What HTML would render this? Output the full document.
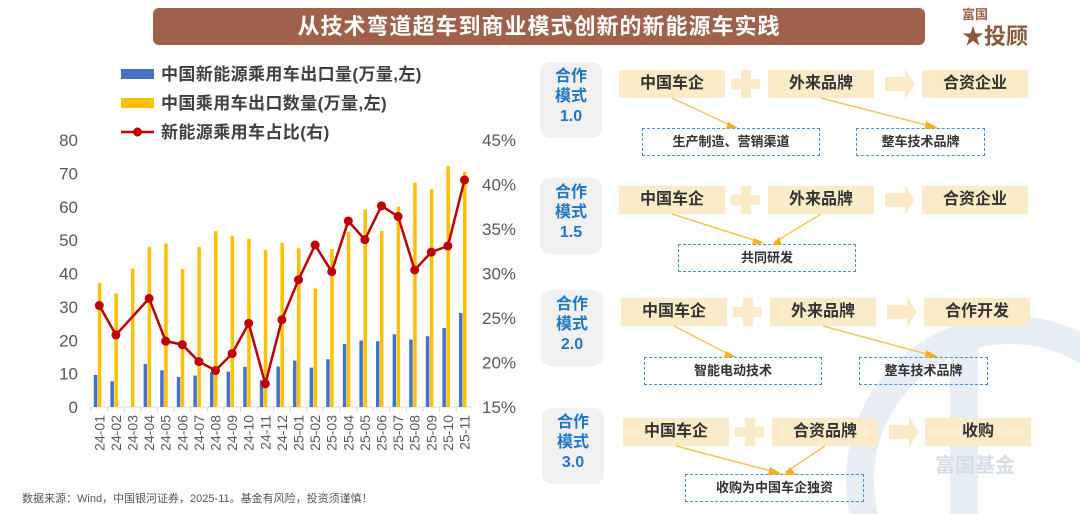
<!DOCTYPE html>
<html style="width:1080px;height:514px;overflow:hidden"><head><meta charset="utf-8">
<style>
html,body{margin:0;width:1080px;height:514px;overflow:hidden;}
body{background:#fff;position:relative;font-family:"Liberation Sans","Noto Sans CJK SC",sans-serif;}
.abs{position:absolute;}
.title{left:153px;top:8px;width:772px;height:37px;background:#A0614A;border-radius:6px;color:#fff;font-size:22px;font-weight:bold;text-align:center;line-height:37px;letter-spacing:1px;}
.mode{width:62px;height:76px;background:#F1F1F1;border-radius:10px;color:#1F77C8;font-weight:bold;font-size:16px;line-height:20px;text-align:center;padding-top:5px;box-sizing:border-box;}
.box{height:28px;background:#FCEBC8;color:#333;font-weight:bold;font-size:16px;line-height:28px;text-align:center;}
.dash{height:28px;border:1.5px dashed #4A90D9;color:#333;font-weight:bold;font-size:13px;line-height:26px;text-align:center;box-sizing:border-box;}
.src{left:22px;top:492px;font-size:11px;color:#555;line-height:14px;}
</style></head><body>
<svg class="abs" style="left:0;top:0" width="1080" height="514">
<circle cx="1010" cy="480" r="150" fill="none" stroke="#E8EEF6" stroke-width="28"/>
<rect x="950" y="330" width="28" height="184" fill="#E8EEF6"/>
<text x="935" y="472" font-size="20" font-weight="bold" fill="#D5DDE8" font-family="Liberation Sans, Noto Sans CJK SC, sans-serif">富国基金</text>
</svg>
<div class="abs title">从技术弯道超车到商业模式创新的新能源车实践</div>
<div class="abs" style="left:962px;top:6px;color:#A0614A;font-weight:bold;font-size:13px;line-height:18px">富国<br><span style="font-size:22px;line-height:26px;color:#8B5A3C">★投顾</span></div>

<svg class="abs" id="chart" style="left:0;top:50px" width="530" height="440"></svg>

<div class="abs mode" style="left:540px;top:62px">合作<br>模式<br>1.0</div>
<div class="abs box" style="left:619px;top:70px;width:106px">中国车企</div>
<div class="abs box" style="left:768px;top:70px;width:106px">外来品牌</div>
<div class="abs box" style="left:922px;top:70px;width:106px">合资企业</div>
<div class="abs dash" style="left:642px;top:128px;width:178px">生产制造、营销渠道</div>
<div class="abs dash" style="left:856px;top:128px;width:129px">整车技术品牌</div>

<div class="abs mode" style="left:540px;top:178px">合作<br>模式<br>1.5</div>
<div class="abs box" style="left:619px;top:186px;width:106px">中国车企</div>
<div class="abs box" style="left:768px;top:186px;width:106px">外来品牌</div>
<div class="abs box" style="left:922px;top:186px;width:106px">合资企业</div>
<div class="abs dash" style="left:678px;top:244px;width:178px">共同研发</div>

<div class="abs mode" style="left:541px;top:290px">合作<br>模式<br>2.0</div>
<div class="abs box" style="left:621px;top:298px;width:106px">中国车企</div>
<div class="abs box" style="left:770px;top:298px;width:106px">外来品牌</div>
<div class="abs box" style="left:924px;top:298px;width:106px">合作开发</div>
<div class="abs dash" style="left:644px;top:357px;width:178px">智能电动技术</div>
<div class="abs dash" style="left:859px;top:357px;width:129px">整车技术品牌</div>

<div class="abs mode" style="left:542px;top:408px">合作<br>模式<br>3.0</div>
<div class="abs box" style="left:623px;top:418px;width:106px">中国车企</div>
<div class="abs box" style="left:772px;top:418px;width:106px">合资品牌</div>
<div class="abs box" style="left:925px;top:418px;width:106px">收购</div>
<div class="abs dash" style="left:685px;top:474px;width:179px">收购为中国车企独资</div>

<svg class="abs" style="left:0;top:0" width="1080" height="514">
<g fill="#FCEBC8">
<path d="M731 79h10v-9h10v9h9v10h-9v9h-10v-9h-10z"/><path d="M885 77h20v-8l10 15-10 15v-8h-20z"/>
<path d="M731 195h10v-9h10v9h9v10h-9v9h-10v-9h-10z"/><path d="M885 193h20v-8l10 15-10 15v-8h-20z"/>
<path d="M733 307h10v-9h10v9h9v10h-9v9h-10v-9h-10z"/><path d="M887 305h20v-8l10 15-10 15v-8h-20z"/>
<path d="M735 427h10v-9h10v9h9v10h-9v9h-10v-9h-10z"/><path d="M889 425h20v-8l10 15-10 15v-8h-20z"/>
</g>
<g stroke="#F8C45A" stroke-width="1.5" fill="none">
<line x1="672" y1="98" x2="732" y2="126"/><line x1="821" y1="98" x2="930" y2="126"/>
<line x1="672" y1="214" x2="760" y2="242"/><line x1="821" y1="214" x2="775" y2="242"/>
<line x1="674" y1="326" x2="730" y2="355"/><line x1="823" y1="326" x2="930" y2="355"/>
<line x1="676" y1="446" x2="775" y2="472"/><line x1="825" y1="446" x2="786" y2="472"/>
</g>
<g fill="#F6B01E">
<polygon points="728,122 738,128 726,129"/><polygon points="926,121 938,128 925,129"/>
<polygon points="754,238 764,243 752,245"/><polygon points="779,237 772,245 782,245"/>
<polygon points="726,351 736,357 724,358"/><polygon points="926,350 938,357 925,358"/>
<polygon points="770,467 782,474 768,475"/><polygon points="790,467 784,475 796,475"/>
</g>
</svg>

<div class="abs src">数据来源：Wind，中国银河证券，2025-11。基金有风险，投资须谨慎！</div>

<script>
const categories=["24-01","24-02","24-03","24-04","24-05","24-06","24-07","24-08","24-09","24-10","24-11","24-12","25-01","25-02","25-03","25-04","25-05","25-06","25-07","25-08","25-09","25-10","25-11"];
const nevExports=[9.6,7.7,0,12.9,11,9,9.4,10.5,10.6,12,8,12.1,13.9,11.8,14.3,18.9,19.9,19.7,21.8,20.2,21.2,23.7,28.2];
const totalExports=[37.2,34,41.5,48,49,41.3,47.9,52.7,51.3,50.4,47,49.2,47.5,35.5,47.3,52.5,59.2,52.7,60,67.2,65.3,72.2,70.4];
const nevShare=[26.4,23.1,null,27.2,22.4,22.0,20.1,19.1,21.0,24.4,17.6,24.8,29.3,33.2,30.2,35.9,33.8,37.6,36.4,30.4,32.4,33.1,40.5];
const leftTicks=[0,10,20,30,40,50,60,70,80];
const rightTicks=[15,20,25,30,35,40,45];
const NS="http://www.w3.org/2000/svg";
const svg=document.getElementById('chart');
const X0=91,BW=16.6,Y0=357,YT=90;
const yL=v=>Y0-(v/80)*(Y0-YT);
const yR=v=>Y0-((v-15)/30)*(Y0-YT);
const xC=i=>X0+BW*(i+0.5);
function mk(t,a){const e=document.createElementNS(NS,t);for(const k in a)e.setAttribute(k,a[k]);svg.appendChild(e);return e;}
let e;
e=mk('line',{x1:X0,y1:Y0,x2:X0+BW*categories.length,y2:Y0,stroke:'#D9D9D9','stroke-width':1});


leftTicks.forEach(t=>{e=mk('text',{x:78,y:yL(t)+6,'text-anchor':'end','font-size':17,fill:'#595959'});e.textContent=t;

});
rightTicks.forEach(t=>{e=mk('text',{x:482,y:yR(t)+6,'font-size':17,fill:'#595959'});e.textContent=t+'%';

});
categories.forEach((c,i)=>{
 e=mk('line',{x1:X0+BW*i,y1:Y0,x2:X0+BW*i,y2:Y0+5,stroke:'#D9D9D9'});
 
 
 if(nevExports[i]>0){e=mk('rect',{x:xC(i)-5.5,y:yL(nevExports[i]),width:3.5,height:Y0-yL(nevExports[i]),fill:'#4472C4'});
 
 }
 e=mk('rect',{x:xC(i)-1.5,y:yL(totalExports[i]),width:3.5,height:Y0-yL(totalExports[i]),fill:'#FFC000'});
 
 
 e=mk('text',{transform:`translate(${xC(i)+5},${Y0+8}) rotate(-90)`,'text-anchor':'end','font-size':14,fill:'#595959'});e.textContent=c;
 
 
});
let pts=nevShare.map((v,i)=>v==null?null:[xC(i),yR(v)]).filter(p=>p);
e=mk('polyline',{points:pts.map(p=>p.join(',')).join(' '),fill:'none',stroke:'#C00000','stroke-width':2.5});


pts.forEach(p=>{e=mk('circle',{cx:p[0],cy:p[1],r:4.5,fill:'#C00000'});

});
const leg=[['rect','#4472C4','中国新能源乘用车出口量(万量,左)'],['rect','#FFC000','中国乘用车出口数量(万量,左)'],['line','#C00000','新能源乘用车占比(右)']];
leg.forEach((l,k)=>{const y=24+k*29;
 if(l[0]=='rect'){e=mk('rect',{x:121,y:y-5,width:33,height:10,fill:l[1]});}
 else{mk('line',{x1:121,y1:y,x2:154,y2:y,stroke:l[1],'stroke-width':2.5});e=mk('circle',{cx:137.5,cy:y,r:4.5,fill:l[1]});}
 
 
 e=mk('text',{x:161,y:y+6,'font-size':17,'font-weight':'bold',fill:'#404040','letter-spacing':'0.4'});e.textContent=l[2];
 
 
});
</script>
</body></html>
